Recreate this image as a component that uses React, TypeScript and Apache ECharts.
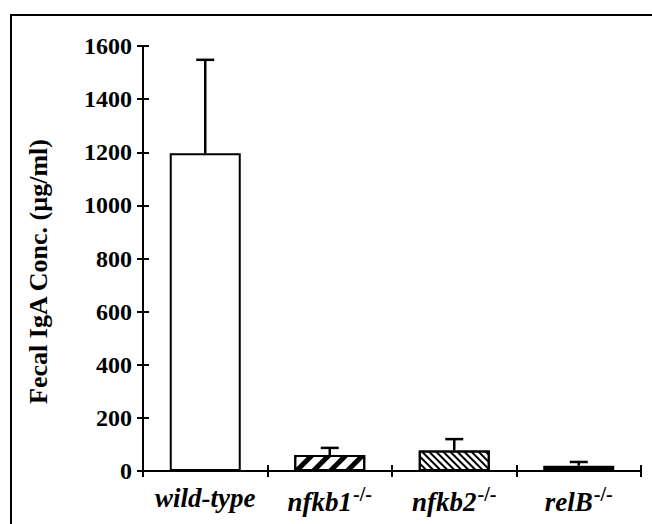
import React, { useEffect, useRef } from "react";
import * as echarts from "echarts";

const categories = ["wild-type", "nfkb1", "nfkb2", "relB"];
const superscripts = ["", "-/-", "-/-", "-/-"];
const meanValues = [1196, 60, 77, 20];
const errorTops = [1548, 87, 120, 34];
const yTicks = [0, 200, 400, 600, 800, 1000, 1200, 1400, 1600];

const FONT = "Liberation Serif";

export default function App() {
  const ref = useRef<HTMLDivElement>(null);
  useEffect(() => {
    document.body.style.margin = "0";
    const chart = echarts.init(ref.current!, null, { renderer: "svg" });
    const barData = meanValues.map((v, i) => {
      if (i === 0) return { value: v, itemStyle: { color: "#fff" } };
      if (i === 1)
        return {
          value: v,
          itemStyle: {
            color: "#fff",
            decal: {
              symbol: "rect",
              color: "#000",
              backgroundColor: "#fff",
              dashArrayX: [1, 0],
              dashArrayY: [5, 7],
              rotation: -Math.PI / 4,
            },
          },
        };
      if (i === 2)
        return {
          value: v,
          itemStyle: {
            color: "#fff",
            decal: {
              symbol: "rect",
              color: "#000",
              backgroundColor: "#fff",
              dashArrayX: [1, 0],
              dashArrayY: [2, 2.4],
              rotation: Math.PI / 4,
            },
          },
        };
      return { value: v, itemStyle: { color: "#000" } };
    });
    const axisCommonX = {
      type: "category" as const,
      data: categories,
      boundaryGap: true,
    };
    chart.setOption({
      animation: false,
      aria: { enabled: false },
      grid: { left: 143, right: 11, top: 46, bottom: 53 },
      graphic: [
        {
          type: "rect",
          shape: { x: 11, y: 15, width: 800, height: 700 },
          style: { fill: "none", stroke: "#000", lineWidth: 2 },
          silent: true,
          z: 100,
        },
      ],
      xAxis: [
        {
          ...axisCommonX,
          axisLine: { lineStyle: { color: "#000", width: 2 } },
          axisTick: { show: true, length: 6, lineStyle: { color: "#000", width: 2 } },
          axisLabel: {
            margin: 13,
            interval: 0,
            formatter: (v: string) => {
              const i = categories.indexOf(v);
              return superscripts[i] ? `{b|${v}}{s|${superscripts[i]}}` : `{b|${v}}`;
            },
            rich: {
              b: {
                fontFamily: FONT,
                fontSize: 27,
                fontWeight: "bold",
                fontStyle: "italic",
                color: "#000",
              },
              s: {
                fontFamily: FONT,
                fontSize: 20,
                fontWeight: "bold",
                color: "#000",
                verticalAlign: "top",
                padding: [0, 0, 16, 1],
              },
            },
          },
        },
        {
          ...axisCommonX,
          position: "bottom",
          axisLine: { show: false },
          axisTick: { show: true, inside: true, length: 6, lineStyle: { color: "#000", width: 2 } },
          axisLabel: { show: false },
        },
      ],
      yAxis: [
        {
          type: "value",
          min: 0,
          max: 1600,
          interval: 200,
          name: "Fecal IgA Conc. (µg/ml)",
          nameLocation: "middle",
          nameGap: 92,
          nameTextStyle: {
            fontFamily: FONT,
            fontSize: 26,
            fontWeight: "bold",
            color: "#000",
            padding: [0, 26, 0, 0],
          },
          splitLine: { show: false },
          axisLine: { show: true, lineStyle: { color: "#000", width: 2 } },
          axisTick: { show: true, length: 6, lineStyle: { color: "#000", width: 2 } },
          axisLabel: {
            margin: 11,
            fontFamily: FONT,
            fontSize: 24,
            fontWeight: "bold",
            color: "#000",
            formatter: (v: number) => String(v),
            customValues: yTicks,
          },
        },
        {
          type: "value",
          min: 0,
          max: 1600,
          interval: 200,
          position: "left",
          splitLine: { show: false },
          axisLine: { show: false },
          axisTick: { show: true, inside: true, length: 6, lineStyle: { color: "#000", width: 2 } },
          axisLabel: { show: false },
        },
      ],
      series: [
        {
          type: "bar",
          data: barData,
          barWidth: 71,
          itemStyle: { borderColor: "#000", borderWidth: 2 },
          z: 2,
        },
        {
          type: "custom",
          data: errorTops.map((e, i) => [i, meanValues[i], e]),
          z: 3,
          renderItem: (params: any, api: any) => {
            const x = api.value(0);
            const base = api.coord([x, api.value(1)]);
            const top = api.coord([x, api.value(2)]);
            const half = 9;
            const st = { stroke: "#000", lineWidth: 2.5 };
            return {
              type: "group",
              children: [
                { type: "line", shape: { x1: base[0], y1: base[1], x2: top[0], y2: top[1] }, style: st },
                { type: "line", shape: { x1: top[0] - half, y1: top[1], x2: top[0] + half, y2: top[1] }, style: st },
              ],
            };
          },
        },
      ],
    });
    return () => chart.dispose();
  }, []);
  return <div ref={ref} style={{ width: 652, height: 524 }} />;
}
